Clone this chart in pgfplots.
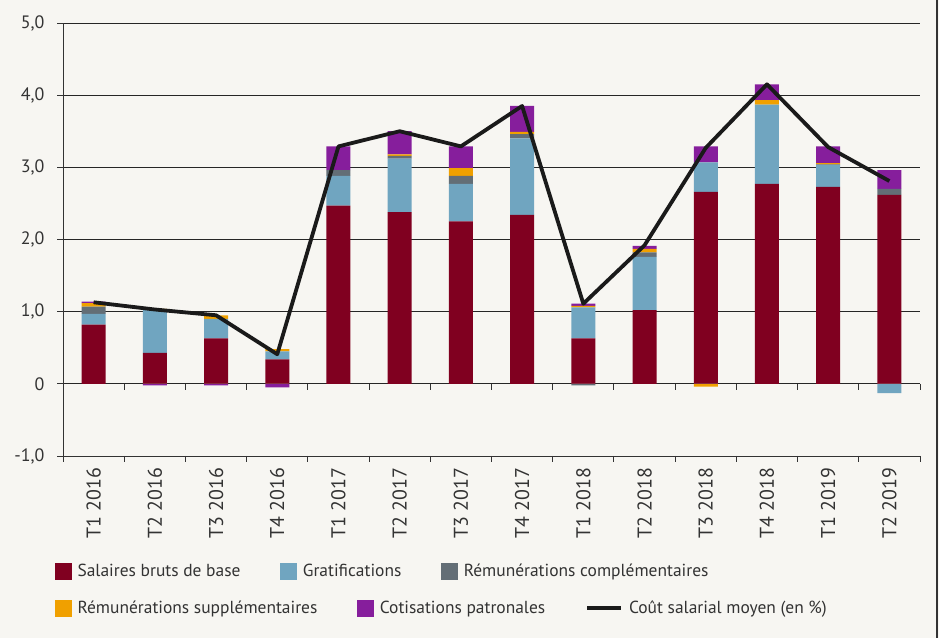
\documentclass[border=0pt]{standalone}
\usepackage{fontspec}
\setmainfont{PT Sans}
\usepackage{pgfplots}
\usepackage{pgfplotstable}
\pgfplotsset{compat=1.18}
\definecolor{bgc}{HTML}{F7F6F2}
\definecolor{cred}{HTML}{800020}
\definecolor{cblue}{HTML}{70A5C0}
\definecolor{cgray}{HTML}{636E76}
\definecolor{corange}{HTML}{F0A000}
\definecolor{cpurple}{HTML}{861E9C}
\definecolor{cline}{HTML}{1A1A1A}
\definecolor{ctext}{HTML}{333333}

\pgfplotstableread{
x red blue gray orange purple line
0 0.82 0.15 0.10 0.05 0.02 1.13
1 0.43 0.60 0.00 0.01 0.00 1.03
2 0.63 0.27 0.00 0.05 0.00 0.95
3 0.34 0.11 0.00 0.03 0.00 0.41
4 2.47 0.41 0.08 0.00 0.33 3.29
5 2.38 0.74 0.04 0.02 0.32 3.50
6 2.25 0.52 0.11 0.11 0.30 3.29
7 2.34 1.06 0.06 0.03 0.36 3.85
8 0.63 0.43 0.00 0.02 0.03 1.11
9 1.02 0.74 0.06 0.05 0.04 1.92
10 2.66 0.41 0.00 0.00 0.22 3.27
11 2.77 1.10 0.00 0.06 0.22 4.15
12 2.73 0.30 0.01 0.02 0.23 3.28
13 2.62 0.00 0.08 0.00 0.26 2.81
}\pos

\pgfplotstableread{
x blue gray orange purple
1 0 0 0 -0.02
2 0 0 0 -0.02
3 0 0 0 -0.05
8 0 -0.02 0 0
10 0 0 -0.04 0
13 -0.13 0 0 0
}\neg

\begin{document}
\begin{tikzpicture}
\path[use as bounding box, fill=bgc] (0,0) rectangle (939bp,638bp);
\draw[black!80, line width=2bp] (937bp,0) -- (937bp,638bp);

\begin{axis}[
  at={(63bp,182bp)}, anchor=south west,
  scale only axis, width=857bp, height=433bp,
  ybar stacked, bar width=24bp,
  xmin=-0.5, xmax=13.5, ymin=-1, ymax=5,
  xtick={0,...,13},
  xticklabels={T1 2016,T2 2016,T3 2016,T4 2016,T1 2017,T2 2017,T3 2017,T4 2017,T1 2018,T2 2018,T3 2018,T4 2018,T1 2019,T2 2019},
  ytick={-1,0,1,2,3,4,5},
  yticklabels={{-1,0},0,{1,0},{2,0},{3,0},{4,0},{5,0}},
  tick style={draw=none},
  axis x line=bottom, axis y line=left,
  axis line style={-, black!80, line width=0.9bp},
  ymajorgrids, grid style={black!85, line width=0.9bp},
  xticklabel style={rotate=90, anchor=east, font=\fontsize{20}{20}\selectfont, text=ctext},
  yticklabel style={font=\fontsize{18}{18}\selectfont, text=ctext},
  xticklabel shift=6bp, yticklabel shift=13bp,
  after end axis/.code={
    \foreach \i in {-0.5,0.5,...,13.6} {
      \draw[black!80, line width=0.9bp] (axis cs:\i,0) -- ++(0,-6bp);
      \draw[black!80, line width=0.9bp] (axis cs:\i,-1) -- ++(0,-6bp);
    }
    \foreach \j in {-1,0,1,2,3,4,5} {
      \draw[black!80, line width=0.9bp] (axis cs:-0.5,\j) -- ++(-6bp,0);
    }
  },
]
\addplot[fill=cred, draw=none] table[x=x, y=red]{\pos};
\addplot[fill=cblue, draw=none] table[x=x, y=blue]{\pos};
\addplot[fill=cgray, draw=none] table[x=x, y=gray]{\pos};
\addplot[fill=corange, draw=none] table[x=x, y=orange]{\pos};
\addplot[fill=cpurple, draw=none] table[x=x, y=purple]{\pos};
\end{axis}

\begin{axis}[
  at={(63bp,182bp)}, anchor=south west,
  scale only axis, width=857bp, height=433bp,
  xmin=-0.5, xmax=13.5, ymin=-1, ymax=5,
  hide axis,
]
\addplot[ybar, bar width=24bp, bar shift=0pt, fill=cblue, draw=none] table[x=x, y=blue]{\neg};
\addplot[ybar, bar width=24bp, bar shift=0pt, fill=cgray, draw=none] table[x=x, y=gray]{\neg};
\addplot[ybar, bar width=24bp, bar shift=0pt, fill=corange, draw=none] table[x=x, y=orange]{\neg};
\addplot[ybar, bar width=24bp, bar shift=0pt, fill=cpurple, draw=none] table[x=x, y=purple]{\neg};
\addplot[cline, line width=3.8bp, line join=round, mark=none] table[x=x, y=line]{\pos};
\end{axis}

% legend row 1
\begin{axis}[
  at={(55bp,67bp)}, anchor=west,
  scale only axis, width=1bp, height=1bp, hide axis,
  xmin=0, xmax=1, ymin=0, ymax=1,
  legend style={at={(0,0.5)}, anchor=west, draw=none, fill=none, inner sep=0pt,
    legend columns=-1, font=\fontsize{17.5}{17.5}\selectfont, text=ctext,
    /tikz/every odd column/.append style={column sep=4bp},
    /tikz/every even column/.append style={column sep=38bp}},
]
\addlegendimage{legend image code/.code={\fill[cred] (0bp,-8bp) rectangle (16bp,8bp);}}
\addlegendentry{Salaires bruts de base}
\addlegendimage{legend image code/.code={\fill[cblue] (0bp,-8bp) rectangle (16bp,8bp);}}
\addlegendentry{Gratifications}
\addlegendimage{legend image code/.code={\fill[cgray] (0bp,-8bp) rectangle (16bp,8bp);}}
\addlegendentry{Rémunérations complémentaires}
\end{axis}

% legend row 2
\begin{axis}[
  at={(55bp,30bp)}, anchor=west,
  scale only axis, width=1bp, height=1bp, hide axis,
  xmin=0, xmax=1, ymin=0, ymax=1,
  legend style={at={(0,0.5)}, anchor=west, draw=none, fill=none, inner sep=0pt,
    legend columns=-1, font=\fontsize{17.5}{17.5}\selectfont, text=ctext,
    /tikz/every odd column/.append style={column sep=4bp},
    /tikz/every even column/.append style={column sep=38bp}},
]
\addlegendimage{legend image code/.code={\fill[corange] (0bp,-8bp) rectangle (16bp,8bp);}}
\addlegendentry{Rémunérations supplémentaires}
\addlegendimage{legend image code/.code={\fill[cpurple] (0bp,-8bp) rectangle (16bp,8bp);}}
\addlegendentry{Cotisations patronales}
\addlegendimage{legend image code/.code={\draw[cline, line width=3.8bp] (0bp,0bp) -- (34bp,0bp);}}
\addlegendentry{Coût salarial moyen (en \%)}
\end{axis}
\end{tikzpicture}
\end{document}
